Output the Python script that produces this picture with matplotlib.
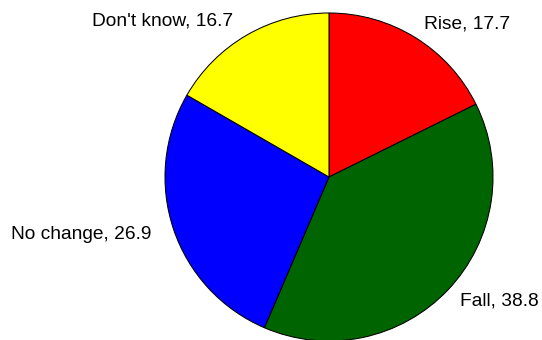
import matplotlib
matplotlib.use("Agg")
import matplotlib.pyplot as plt
from matplotlib.transforms import offset_copy

labels = ["Rise", "Fall", "No change", "Don't know"]
values = [17.7, 38.8, 26.9, 16.7]
colors = ["#FF0000", "#006400", "#0000FF", "#FFFF00"]

W, H = 542, 340
cx, cy, r = 329, 177, 164

fig = plt.figure(figsize=(W / 100, H / 100), dpi=100)
ax = fig.add_axes([0, 0, 1, 1])
wedges, texts = ax.pie(values, labels=[f"{l}, {v}" for l, v in zip(labels, values)],
       colors=colors, startangle=90, counterclock=False,
       labeldistance=1.1, normalize=True,
       wedgeprops=dict(edgecolor="black", linewidth=0.75),
       textprops=dict(fontsize=13.8, family=["Liberation Sans", "DejaVu Sans"]))
for t in texts:
    if t.get_ha() == "right":
        t.set_transform(offset_copy(ax.transData, fig=fig, x=-6, y=0, units="dots"))
ax.set_xlim(-cx / r, (W - cx) / r)
ax.set_ylim(-(H - cy) / r, cy / r)
ax.set_aspect("auto")
ax.axis("off")
fig.savefig("out.png", dpi=100)
